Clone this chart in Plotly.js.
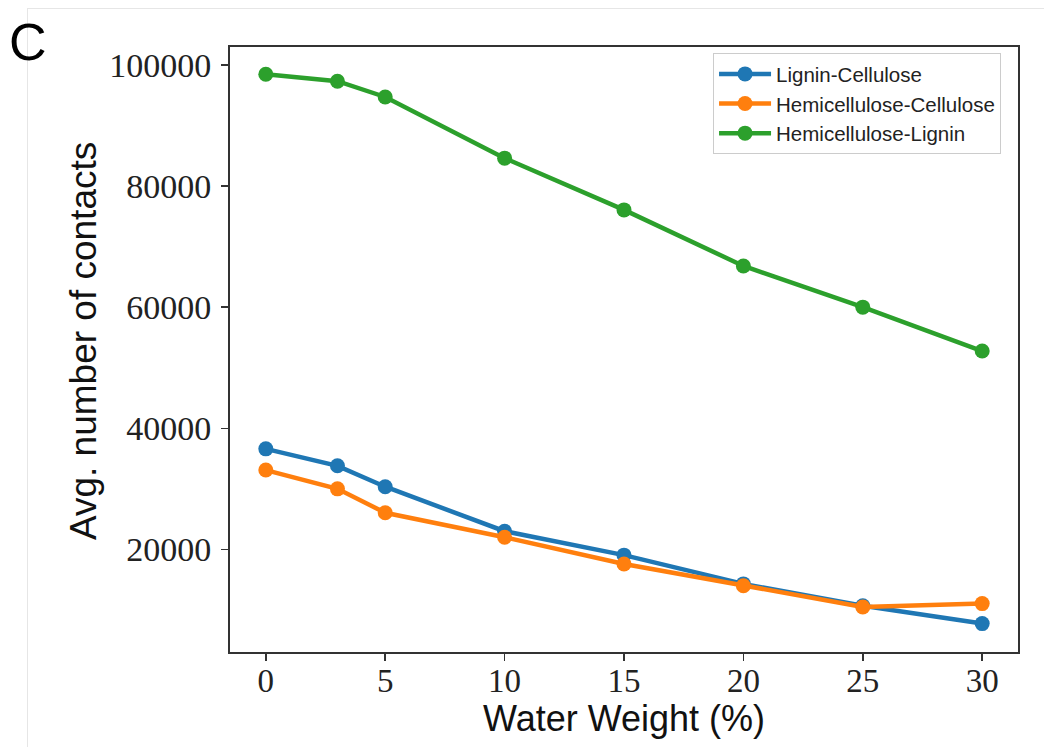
<!DOCTYPE html>
<html>
<head>
<meta charset="utf-8">
<script src="https://cdn.plot.ly/plotly-3.0.1.min.js"></script>
<style>
html,body{margin:0;padding:0;background:#fff;width:1044px;height:747px;overflow:hidden;}
#chart{position:absolute;left:0;top:0;width:1044px;height:747px;}
#frame{position:absolute;left:27px;top:8px;width:1017px;height:739px;border-left:1px solid #e6e6e6;border-top:1px solid #e6e6e6;pointer-events:none;}
#panel{position:absolute;left:9px;top:12px;font-family:'Liberation Sans',Arial,sans-serif;font-size:52px;color:#000;}
</style>
</head>
<body>
<div id="chart"></div>
<div id="frame"></div>
<div id="panel">C</div>
<script>
const waterWeight = [0, 3, 5, 10, 15, 20, 25, 30];
const ligninCellulose = [36600, 33800, 30350, 23000, 19050, 14300, 10700, 7750];
const hemiCellulose = [33100, 30000, 26050, 22000, 17600, 14000, 10500, 11050];
const hemiLignin = [98450, 97300, 94700, 84600, 76050, 66800, 60000, 52750];
const seriesNames = ['Lignin-Cellulose', 'Hemicellulose-Cellulose', 'Hemicellulose-Lignin'];
const seriesColors = ['#1f77b4', '#ff7f0e', '#2ca02c'];
const xTicks = [0, 5, 10, 15, 20, 25, 30];
const yTicks = [20000, 40000, 60000, 80000, 100000];
const xTitle = 'Water Weight (%)';
const yTitle = 'Avg. number of contacts';

const allY = [ligninCellulose, hemiCellulose, hemiLignin];
const traces = allY.map((ys, i) => ({
  x: waterWeight, y: ys, name: seriesNames[i], type: 'scatter', mode: 'lines+markers',
  line: {color: seriesColors[i], width: 4.5},
  marker: {color: seriesColors[i], size: 15}
}));

const serif = 'Liberation Serif, Times New Roman, serif';
const sans = 'Liberation Sans, Arial, sans-serif';
const layout = {
  width: 1044, height: 747,
  paper_bgcolor: '#fff', plot_bgcolor: '#fff',
  margin: {l: 230, r: 26, t: 47, b: 95},
  showlegend: true,
  legend: {
    x: 0.613, y: 0.99, xanchor: 'left', yanchor: 'top',
    bgcolor: 'rgba(255,255,255,0.8)', bordercolor: '#cccccc', borderwidth: 1,
    font: {family: sans, size: 20.5, color: '#222'},
    itemwidth: 52,
    tracegroupgap: 0
  },
  xaxis: {
    range: [-1.5, 31.5], tickvals: xTicks, ticktext: xTicks.map(String),
    showgrid: false, zeroline: false,
    showline: true, linecolor: '#333', linewidth: 2, mirror: true,
    ticks: 'outside', ticklen: 7, tickwidth: 1.5, tickcolor: '#333',
    ticklabelstandoff: -9,
    tickfont: {family: serif, size: 33, color: '#222'}
  },
  yaxis: {
    range: [3060, 102950], tickvals: yTicks, ticktext: yTicks.map(String),
    showgrid: false, zeroline: false,
    showline: true, linecolor: '#333', linewidth: 2, mirror: true,
    ticks: 'outside', ticklen: 7, tickwidth: 1.5, tickcolor: '#333',
    ticklabelstandoff: 3,
    tickfont: {family: serif, size: 34, color: '#222'}
  },
  annotations: [
    {text: xTitle, xref: 'paper', yref: 'paper', x: 0.5, y: -0.1107, xanchor: 'center', yanchor: 'middle',
     showarrow: false, font: {family: sans, size: 36, color: '#111'}},
    {text: yTitle, xref: 'paper', yref: 'paper', x: -0.1865, y: 0.514, xanchor: 'center', yanchor: 'middle',
     textangle: -90, showarrow: false, font: {family: sans, size: 37, color: '#111'}}
  ]
};
Plotly.newPlot('chart', traces, layout, {displayModeBar: false, staticPlot: true});
</script>
</body>
</html>
